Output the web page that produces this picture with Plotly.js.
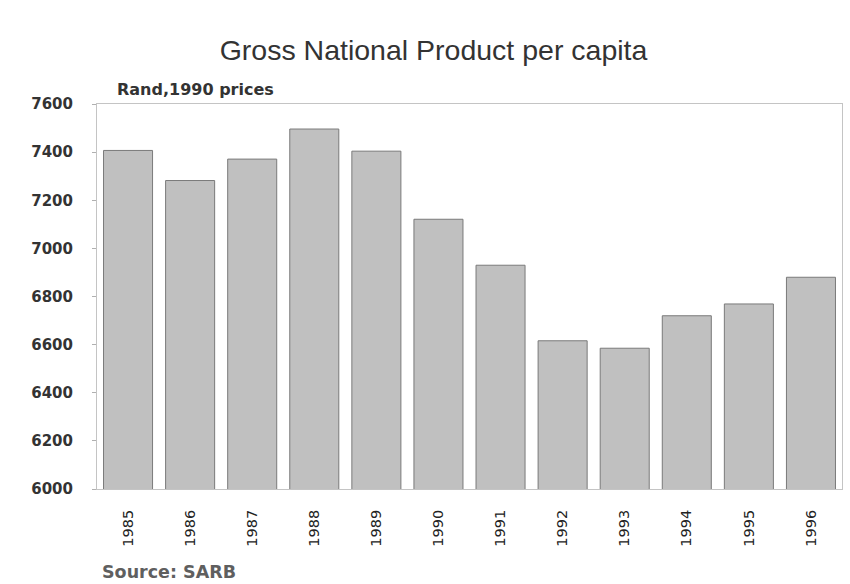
<!DOCTYPE html>
<html>
<head>
<meta charset="utf-8">
<script src="https://cdn.plot.ly/plotly-3.0.1.min.js"></script>
<style>html,body{margin:0;padding:0;background:#fff;}#chart{width:850px;height:584px;}</style>
</head>
<body>
<div id="chart"></div>
<script>
const years = ["1985","1986","1987","1988","1989","1990","1991","1992","1993","1994","1995","1996"];
const gnpPerCapita = [7407, 7282, 7371, 7496, 7404, 7121, 6930, 6616, 6585, 6720, 6769, 6880];
const yTicks = [6000, 6200, 6400, 6600, 6800, 7000, 7200, 7400, 7600];

const titleFont = "Liberation Sans, Arial, sans-serif";
const labelFont = "DejaVu Sans, Verdana, sans-serif";

Plotly.newPlot('chart', [{
  type: 'bar',
  x: years,
  y: gnpPerCapita,
  marker: {color: '#c0c0c0', line: {color: '#7a7a7a', width: 1}},
  hoverinfo: 'x+y'
}], {
  width: 850, height: 584,
  margin: {l: 97, r: 8, t: 104, b: 95},
  paper_bgcolor: '#ffffff',
  plot_bgcolor: '#ffffff',
  bargap: 0.21,
  showlegend: false,
  title: {text: 'Gross National Product per capita', font: {family: titleFont, size: 28.5, color: '#333333'}, x: 0.51, xanchor: 'center', y: 0.915, yanchor: 'middle'},
  xaxis: {
    type: 'category',
    tickangle: -90,
    tickfont: {family: labelFont, size: 14.5, color: '#222222'},
    showline: true, linecolor: '#c4c4c4', linewidth: 1, mirror: true,
    ticks: '', ticklabelstandoff: 14,
    showgrid: false, zeroline: false
  },
  yaxis: {
    range: [6000, 7600],
    tickvals: yTicks,
    ticktext: yTicks.map(String),
    tickfont: {family: labelFont, size: 15, color: '#333333', weight: 'bold'},
    showline: true, linecolor: '#c4c4c4', linewidth: 1, mirror: true,
    ticks: 'outside', ticklen: 4, tickcolor: '#b0b0b0',
    ticklabelstandoff: 16,
    showgrid: false, zeroline: false
  },
  annotations: [
    {text: 'Rand,1990 prices', xref: 'paper', yref: 'paper', x: 0.024, y: 1.0, xanchor: 'left', yanchor: 'bottom', yshift: 3, showarrow: false, font: {family: labelFont, size: 16, color: '#333333', weight: 'bold'}},
    {text: 'Source: SARB', xref: 'paper', yref: 'paper', x: 0.004, y: 0, xanchor: 'left', yanchor: 'middle', yshift: -83, showarrow: false, font: {family: labelFont, size: 17.5, color: '#5f5f5f', weight: 'bold'}}
  ]
}, {displayModeBar: false, staticPlot: true});
</script>
</body>
</html>
